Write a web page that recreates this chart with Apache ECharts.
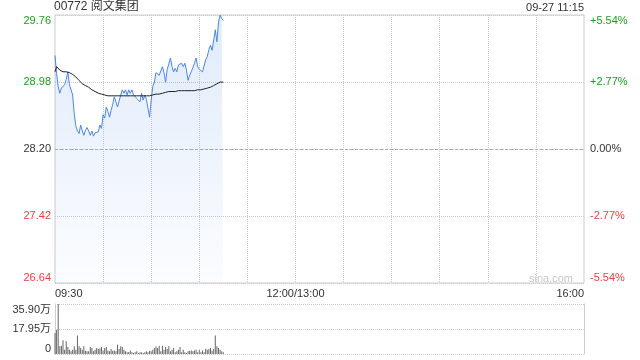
<!DOCTYPE html>
<html>
<head>
<meta charset="utf-8">
<script src="https://cdn.jsdelivr.net/npm/echarts@6/dist/echarts.min.js"></script>
<style>html,body{margin:0;padding:0;background:#fff;}#c{width:640px;height:360px;}</style>
</head>
<body>
<div id="c"></div>
<script>
const titleText = '00772 阅文集团';
const timeText = '09-27 11:15';
const prevClose = 28.20;
const priceTicksPct = [-5.54, -2.77, 0, 2.77, 5.54];
const volMaxWan = 35.90;

const prices = [29.29,29.08,28.93,28.85,28.91,28.93,28.95,29.01,29.10,28.95,
28.89,28.83,28.61,28.47,28.41,28.38,28.48,28.41,28.36,28.42,
28.45,28.41,28.36,28.41,28.35,28.39,28.37,28.40,28.48,28.44,
28.60,28.56,28.69,28.64,28.57,28.65,28.72,28.81,28.83,28.69,
28.69,28.83,28.89,28.85,28.89,28.83,28.89,28.85,28.89,28.83,
28.82,28.79,28.81,28.75,28.85,28.77,28.83,28.78,28.79,28.57,
28.77,28.93,28.98,29.09,29.08,29.06,29.11,29.16,29.09,28.98,
29.13,29.19,29.26,29.16,29.10,29.14,29.10,29.18,29.16,29.20,
29.16,29.20,29.12,29.00,29.06,29.10,29.15,29.20,29.26,29.16,
29.13,29.14,29.10,29.10,29.24,29.28,29.36,29.41,29.35,29.35,
29.59,29.45,29.68,29.76,29.72,29.70];

const avgPrices = [29.10,29.16,29.14,29.12,29.11,29.10,29.10,29.10,29.09,29.09,
29.08,29.07,29.06,29.04,29.02,29.00,28.98,28.96,28.95,28.94,
28.93,28.92,28.90,28.89,28.88,28.87,28.86,28.85,28.85,28.84,
28.83,28.83,28.82,28.82,28.82,28.82,28.82,28.82,28.82,28.82,
28.82,28.82,28.82,28.82,28.82,28.82,28.82,28.82,28.82,28.82,
28.82,28.82,28.82,28.82,28.82,28.82,28.82,28.82,28.82,28.82,
28.82,28.83,28.83,28.84,28.84,28.84,28.85,28.85,28.86,28.86,
28.86,28.87,28.87,28.87,28.87,28.87,28.88,28.88,28.88,28.88,
28.88,28.88,28.88,28.88,28.88,28.88,28.88,28.88,28.89,28.89,
28.89,28.89,28.90,28.90,28.91,28.91,28.92,28.92,28.93,28.94,
28.95,28.96,28.97,28.98,28.98,28.98];

const volumes = [15.1,17.5,35.9,5.5,6.0,9.8,3.1,9.1,5.0,3.1,
1.9,3.1,5.5,3.1,13.2,5.5,4.3,3.1,5.5,2.4,
1.9,1.9,5.0,4.3,1.9,3.1,4.3,3.6,4.1,5.0,
2.6,4.3,5.0,2.6,1.9,3.6,2.4,2.6,1.9,6.7,
3.6,5.5,5.0,3.1,1.9,1.2,1.4,2.6,1.2,0.7,
1.2,1.9,0.7,1.2,1.2,0.7,1.2,1.9,1.2,2.4,
1.9,3.1,4.3,5.5,4.3,6.0,1.9,6.0,3.1,5.0,
3.6,5.5,1.9,3.1,4.3,1.2,1.9,3.1,5.0,1.2,
3.1,1.2,0.7,1.9,2.4,2.6,1.9,2.6,3.1,1.2,
3.1,1.2,2.6,1.2,3.8,3.1,3.6,4.3,2.4,3.6,
13.2,5.5,4.3,3.1,1.9,1.2];

// time categories: 09:30-12:00, 13:01-16:00
function pad(n){return (n<10?'0':'')+n;}
const times = [];
for (let m = 9*60+30; m <= 12*60; m++) times.push(pad(Math.floor(m/60))+':'+pad(m%60));
for (let m = 13*60+1; m <= 16*60; m++) times.push(pad(Math.floor(m/60))+':'+pad(m%60));
const xLabels = {0:'09:30', 150:'12:00/13:00', 330:'16:00'};

const pct = prices.map(p => (p/prevClose - 1)*100);
const avgPct = avgPrices.map(p => (p/prevClose - 1)*100);

function colorFor(v){ if (Math.abs(v) < 1e-9) return '#333'; return v > 0 ? '#1aa31a' : '#f23c3c'; }

const FONT = "Arial, 'Liberation Sans', 'Noto Sans CJK SC', sans-serif";
const chart = echarts.init(document.getElementById('c'), null, {renderer:'canvas'});
chart.setOption({
  animation: false,
  textStyle: {fontFamily: FONT},
  title: [
    {text: titleText, left: 54, top: 1, padding: 0, textStyle: {fontSize: 12, fontWeight: 'normal', color: '#333', fontFamily: FONT}},
    {text: timeText, right: 56, top: 2, padding: 0, textStyle: {fontSize: 11, fontWeight: 'normal', color: '#333', fontFamily: FONT}}
  ],
  graphic: [{type: 'text', right: 67, top: 273, style: {text: 'sina.com', fill: '#c8c8c8', font: '11px ' + FONT}}],
  grid: [
    {left: 55, right: 56, top: 15, height: 268, show: true, borderColor: '#ccc', borderWidth: 1, backgroundColor: 'transparent'},
    {left: 55, right: 56, top: 304, height: 50}
  ],
  xAxis: [
    {type: 'category', gridIndex: 0, data: times, boundaryGap: false,
     axisLine: {show: false}, axisTick: {show: false},
     axisLabel: {interval: (i) => xLabels[i] !== undefined, formatter: (v, i) => xLabels[i] || '',
       fontSize: 11, color: '#333', margin: 5, alignMinLabel: 'left', alignMaxLabel: 'right', showMinLabel: true, showMaxLabel: true},
     splitLine: {show: true, interval: (i) => i % 30 === 0 && i !== 0 && i !== 330, lineStyle: {color: '#ccc', type: 'dotted', width: 1}}},
    {type: 'category', gridIndex: 1, data: times, boundaryGap: false,
     axisLine: {show: false}, axisTick: {show: false}, axisLabel: {show: false}, splitLine: {show: false}}
  ],
  yAxis: [
    {type: 'value', gridIndex: 0, min: priceTicksPct[0], max: priceTicksPct[4], interval: 2.77,
     axisLine: {show: false}, axisTick: {show: false},
     splitLine: {show: true, lineStyle: {color: '#ccc', type: 'dotted'}},
     axisLabel: {fontSize: 11, margin: 4, formatter: v => (prevClose*(1+v/100)).toFixed(2), color: (v) => colorFor(Number(v)),
       verticalAlignMinLabel: 'bottom', verticalAlignMaxLabel: 'top'}},
    {type: 'value', gridIndex: 0, position: 'right', min: priceTicksPct[0], max: priceTicksPct[4], interval: 2.77,
     axisLine: {show: false}, axisTick: {show: false}, splitLine: {show: false},
     axisLabel: {fontSize: 11, margin: 6,
       formatter: v => Math.abs(v) < 1e-9 ? '0.00%' : (v > 0 ? '+' : '') + v.toFixed(2) + '%',
       color: (v) => colorFor(Number(v)),
       verticalAlignMinLabel: 'bottom', verticalAlignMaxLabel: 'top'}},
    {type: 'value', gridIndex: 1, min: 0, max: volMaxWan, interval: volMaxWan/2,
     axisLine: {show: true, lineStyle: {color: '#ccc'}}, axisTick: {show: false},
     splitLine: {show: true, lineStyle: {color: '#ccc', type: 'dotted'}},
     axisLabel: {fontSize: 11, margin: 4, color: '#333', formatter: v => v === 0 ? '0' : v.toFixed(2) + '万',
       verticalAlignMinLabel: 'bottom', verticalAlignMaxLabel: 'top'}},
    {type: 'value', gridIndex: 1, position: 'right', min: 0, max: volMaxWan, interval: volMaxWan/2,
     axisLine: {show: true, lineStyle: {color: '#ccc'}}, axisTick: {show: false},
     splitLine: {show: false}, axisLabel: {show: false}}
  ],
  series: [
    {type: 'line', name: 'price', xAxisIndex: 0, yAxisIndex: 0, data: pct, symbol: 'none',
     lineStyle: {color: '#4a86e8', width: 1}, itemStyle: {color: '#4a86e8'},
     areaStyle: {origin: 'start', color: new echarts.graphic.LinearGradient(0,0,0,1,[
       {offset: 0, color: 'rgba(74,134,232,0.24)'}, {offset: 1, color: 'rgba(74,134,232,0.03)'}])},
     markLine: {silent: true, symbol: 'none', label: {show: false},
       lineStyle: {color: '#aaa', type: [3, 2], width: 1}, data: [{yAxis: 0}]}},
    {type: 'line', name: 'avg', xAxisIndex: 0, yAxisIndex: 0, data: avgPct, symbol: 'none',
     lineStyle: {color: '#222', width: 1}, itemStyle: {color: '#222'}},
    {type: 'bar', name: 'vol', xAxisIndex: 1, yAxisIndex: 2, data: volumes, barWidth: 1,
     itemStyle: {color: '#666'}}
  ]
});
</script>
</body>
</html>
